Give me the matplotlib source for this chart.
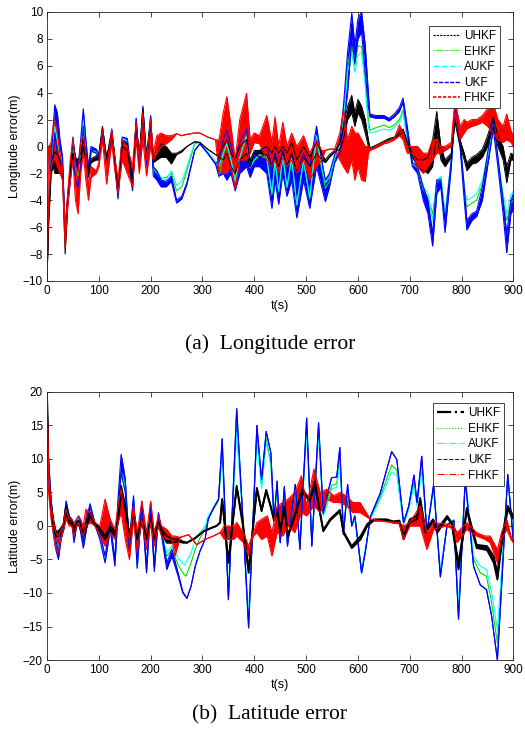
import numpy as np
import matplotlib.pyplot as plt
from matplotlib.lines import Line2D

plt.rcParams["font.family"] = ["Liberation Sans", "DejaVu Sans"]

# ---- (a) longitude error: (t, low, high) for oscillating series, (t, value) for smooth ones
lon_uhkf = [(0, -10, -10), (3, -6, -6), (8, -2.0, -1.5), (12, -1.5, -0.8), (15, -2.0, -0.4), (20, -2.0, -0.6),
            (25, -2.0, -1.0), (30, -2.1, -1.5), (35, -8.0, -7.0), (40, -4.3, -3.8), (45, -2.0, -1.5), (50, -0.5, 0.3),
            (55, -1.2, -0.8), (60, -1.4, -1.0), (65, -1.0, -0.5), (70, 0.0, 0.5), (75, -1.0, -0.5), (80, -2.2, -1.8),
            (85, -1.2, -0.9), (95, -1.0, -0.7), (100, -1.0, -0.7), (107, 1.0, 1.4), (115, -1.2, -0.8), (125, 0.8, 1.1),
            (130, -0.8, -0.5), (137, -3.5, -3.2), (145, 0.0, 0.3), (155, -0.3, 0.2), (165, -2.8, -2.5), (172, 1.5, 1.8),
            (178, -1.0, -0.7), (185, 2.5, 2.8), (192, -1.0, -0.7), (200, 1.8, 2.0), (205, -1.2, -0.9), (212, -1.0, -0.5),
            (220, -0.8, 0.2), (230, -0.8, 0.0), (240, -1.3, -0.5), (250, -0.6, -0.5), (260, -0.4, -0.3), (270, 0.0, 0.0),
            (285, 0.35, 0.35), (295, 0.3, 0.3), (310, -0.2, -0.2), (325, -0.6, -0.6), (332, -0.8, -0.6), (340, -1.0, 0.0),
            (347, -0.5, 0.5), (355, -1.5, -0.5), (363, -2.0, -1.0), (372, -1.0, 0.0), (385, -0.5, 0.5), (392, -1.5, -1.0),
            (400, -0.5, -0.3), (410, -0.8, -0.3), (424, -0.6, 0.0), (434, -1.5, -0.5), (440, -0.8, 0.0), (447, -1.5, -0.5),
            (455, -0.5, 0.0), (463, -1.5, -0.5), (472, -0.5, 0.3), (482, -2.0, -1.0), (495, -0.8, 0.0), (507, -1.5, -0.8),
            (520, -0.5, 0.3), (530, -1.0, -0.5), (537, -1.2, -1.0), (545, -0.8, -0.6), (555, -0.4, -0.3), (565, -0.2, 0.2),
            (572, 0.5, 1.5), (580, 2.0, 3.0), (588, 2.5, 3.8), (594, 1.5, 2.5), (600, 2.5, 3.5), (607, 2.0, 3.0),
            (614, 1.0, 2.0), (620, 0.0, 0.5), (623, -0.2, -0.1), (635, 0.0, 0.1), (650, 0.3, 0.4), (660, 0.5, 0.6),
            (670, 0.6, 0.7), (680, 0.9, 1.1), (687, 1.0, 1.3), (695, 0.2, 0.4), (705, -0.8, -0.6), (715, -1.5, -1.0),
            (726, -1.8, -1.0), (735, -2.0, -0.8), (744, -1.5, 0.5), (752, 1.0, 2.6), (760, -1.0, 0.0), (768, -1.5, -1.0),
            (780, -0.8, -0.5), (787, 1.8, 2.2), (797, 0.0, 0.5), (805, -1.0, -0.5), (810, -1.8, -1.2), (820, -1.3, -0.8),
            (829, -1.2, -0.6), (840, -0.8, -0.2), (850, 0.0, 0.8), (861, 1.5, 2.2), (870, 0.0, 0.8), (880, -1.0, 0.0),
            (887, -2.7, -1.5), (895, -1.0, -0.5), (900, -1.0, -0.6)]

lon_ehkf = [(0, -10), (3, -4), (8, -1.2), (15, 1.3), (20, 0.4), (25, -0.6), (30, -1.3), (35, -6.2), (40, -3.9),
            (45, -2.1), (50, 0.3), (55, -1.6), (60, -2.2), (65, -0.6), (70, 2.0), (75, -0.4), (80, -1.9), (85, -0.4),
            (95, -0.5), (100, -0.8), (107, 1.3), (115, -1.3), (125, 1.1), (130, -0.8), (137, -3.7), (145, 0.6),
            (155, 0.4), (165, -3.1), (172, 2.0), (178, -1.2), (185, 2.9), (192, -1.1), (200, 2.2), (205, -1.7),
            (212, -2.0), (220, -2.4), (230, -2.3), (240, -2.0), (250, -3.3), (260, -3.0), (270, -1.8), (285, 0.2),
            (295, 0.3), (310, -0.5), (325, -1.2), (332, -2.3), (340, -0.6), (347, 0.2), (355, -1.0), (363, -2.6),
            (372, -0.9), (385, 0.8), (392, -1.6), (400, -1.0), (410, -0.7), (424, -0.9), (434, -3.6), (440, -1.0),
            (447, -3.4), (455, -0.7), (463, -3.1), (472, -0.9), (482, -4.4), (495, -1.0), (507, -3.9), (520, 0.7),
            (530, -1.7), (537, -3.1), (545, -2.6), (555, -0.9), (565, 0.0), (572, 2.0), (580, 6.0), (588, 7.6),
            (594, 6.0), (600, 7.5), (607, 7.4), (614, 5.0), (620, 2.0), (623, 1.2), (635, 1.4), (650, 1.6),
            (660, 1.4), (670, 1.6), (680, 2.0), (687, 2.7), (695, 0.6), (705, -1.3), (715, -1.6), (726, -3.2),
            (735, -3.8), (744, -5.0), (752, -2.7), (760, -2.3), (768, -5.2), (780, -1.0), (787, 2.5), (797, 0.1),
            (805, -3.5), (810, -4.5), (820, -4.2), (829, -4.0), (840, -2.8), (850, -0.9), (861, 1.6), (870, -1.1),
            (880, -4.0), (887, -5.5), (895, -4.2), (900, -4.0)]

lon_aukf = [(0, -10), (3, -4), (8, -1.0), (15, 1.5), (20, 0.5), (25, -0.5), (30, -1.2), (35, -6.0), (40, -3.8),
            (45, -2.0), (50, 0.3), (55, -1.5), (60, -2.0), (65, -0.5), (70, 2.0), (75, -0.3), (80, -1.8), (85, -0.3),
            (95, -0.4), (100, -0.8), (107, 1.3), (115, -1.2), (125, 1.1), (130, -0.8), (137, -3.7), (145, 0.6),
            (155, 0.4), (165, -3.1), (172, 2.1), (178, -1.2), (185, 2.9), (192, -1.1), (200, 2.2), (205, -1.6),
            (212, -1.8), (220, -2.3), (230, -2.5), (240, -1.8), (250, -2.9), (260, -2.6), (270, -1.5), (285, 0.3),
            (295, 0.3), (310, -0.4), (325, -1.1), (332, -1.5), (340, -0.5), (347, 0.2), (355, -1.0), (363, -2.5),
            (372, -0.8), (385, 0.8), (392, -1.5), (400, -1.0), (410, -0.6), (424, -0.8), (434, -3.5), (440, -1.0),
            (447, -3.3), (455, -0.7), (463, -3.0), (472, -0.9), (482, -4.3), (495, -1.0), (507, -3.8), (520, 0.8),
            (530, -1.5), (537, -2.7), (545, -2.3), (555, -0.8), (565, 0.0), (572, 2.0), (580, 5.5), (588, 7.0),
            (594, 5.5), (600, 6.8), (607, 7.0), (614, 4.5), (620, 1.5), (623, 1.0), (635, 1.1), (650, 1.3),
            (660, 1.2), (670, 1.4), (680, 1.8), (687, 2.5), (695, 0.5), (705, -1.3), (715, -1.5), (726, -3.0),
            (735, -3.5), (744, -5.5), (752, -2.5), (760, -2.2), (768, -5.0), (780, -1.0), (787, 2.5), (797, 0.2),
            (805, -3.0), (810, -4.0), (820, -3.8), (829, -3.5), (840, -2.5), (850, -0.8), (861, 1.6), (870, -1.0),
            (880, -3.5), (887, -5.0), (895, -3.6), (900, -3.3)]

lon_ukf = [(0, -10, -10), (3, -5, -5), (8, -1.5, -1.0), (12, -0.5, 1.5), (15, 1.0, 3.1), (20, -0.5, 2.5),
           (25, -1.2, 0.5), (30, -1.6, -0.8), (35, -7.0, -6.5), (40, -4.2, -3.6), (45, -2.5, -1.5), (50, -0.5, 0.7),
           (55, -2.5, -1.0), (60, -3.0, -1.5), (65, -1.5, 0.5), (70, 1.5, 2.8), (75, -1.0, 0.5), (80, -2.3, -1.5),
           (85, -0.3, 0.0), (95, -0.5, -0.2), (100, -1.0, -0.6), (107, 1.2, 1.5), (115, -1.5, -1.0), (125, 1.0, 1.3),
           (130, -1.0, -0.5), (137, -3.9, -3.5), (145, 0.4, 0.7), (155, 0.2, 0.6), (165, -3.3, -3.0), (172, 1.8, 2.1),
           (178, -1.5, -1.0), (185, 2.7, 3.0), (192, -1.3, -1.0), (200, 2.0, 2.3), (205, -2.2, -1.5), (212, -2.5, -1.8),
           (220, -3.0, -2.5), (230, -3.0, -2.6), (240, -2.6, -2.2), (250, -4.2, -4.0), (260, -3.9, -3.7),
           (270, -2.8, -2.7), (285, -0.3, -0.3), (295, 0.2, 0.2), (310, -0.5, -0.5), (325, -1.3, -1.3),
           (332, -2.2, -1.0), (340, -2.0, 0.5), (347, -2.5, 1.2), (355, -2.0, 0.0), (363, -3.3, -1.0),
           (372, -2.0, 0.3), (385, -1.5, 1.3), (392, -2.3, -1.5), (400, -1.5, -0.5), (410, -1.5, -0.3),
           (424, -2.0, 0.0), (434, -4.6, -1.5), (440, -2.5, -0.5), (447, -4.3, -1.5), (455, -2.0, -0.3),
           (463, -3.7, -1.5), (472, -2.5, -0.5), (482, -5.3, -2.0), (495, -2.5, -0.5), (507, -4.6, -1.5),
           (520, -1.5, 1.5), (530, -3.0, -1.0), (537, -4.1, -2.5), (545, -3.0, -2.0), (555, -1.2, -0.6),
           (565, -0.5, 0.3), (572, 1.5, 3.0), (580, 4.0, 7.0), (588, 8.0, 9.9), (594, 6.2, 7.5), (600, 8.0, 9.5),
           (607, 8.5, 10.0), (614, 5.5, 7.5), (620, 3.0, 4.0), (623, 2.2, 2.4), (635, 2.1, 2.3), (650, 2.1, 2.3),
           (660, 1.9, 2.1), (670, 2.2, 2.4), (680, 2.6, 2.9), (687, 3.3, 3.6), (695, 1.0, 1.5), (705, -1.5, -1.2),
           (715, -2.0, -1.5), (726, -4.0, -3.0), (735, -5.0, -4.0), (744, -7.4, -6.5), (752, -3.5, -2.5),
           (760, -3.0, -2.5), (768, -6.4, -5.5), (780, -1.5, -1.0), (787, 2.5, 2.8), (797, 0.0, 0.5),
           (805, -4.0, -3.0), (810, -6.2, -5.5), (820, -5.5, -5.0), (829, -5.2, -4.8), (840, -4.0, -3.0),
           (850, -1.5, -0.5), (861, 1.3, 2.0), (870, -1.5, -0.8), (880, -5.0, -4.0), (887, -7.9, -6.5),
           (895, -5.0, -4.0), (900, -4.7, -3.5)]

lon_fhkf = [(0, -10, -10), (3, -4, 0.0), (8, -1.5, 0.3), (12, -1.0, 1.5), (15, -1.0, 2.0), (20, -1.5, 1.0),
            (25, -2.0, -0.5), (30, -2.5, -1.5), (35, -7.5, -6.0), (40, -4.5, -3.5), (45, -2.5, -1.0), (50, -1.0, 0.5),
            (55, -4.0, -1.5), (60, -5.0, -2.0), (65, -2.0, 0.3), (70, -0.5, 0.8), (75, -2.5, -0.5), (80, -4.0, -3.0),
            (85, -2.3, -1.5), (95, -2.0, -1.8), (100, -1.5, -1.2), (107, 0.5, 1.3), (115, -2.8, -1.5), (125, 0.3, 1.2),
            (130, -1.5, -0.5), (137, -3.5, -2.5), (145, -1.0, 0.5), (155, -2.0, 0.0), (165, -3.0, -1.5),
            (172, 0.5, 1.8), (178, -2.0, -1.0), (185, 0.5, 2.5), (192, -2.2, -1.0), (200, 0.0, 2.0), (205, -1.0, -0.5),
            (212, -0.5, 0.8), (220, 0.0, 1.0), (230, 0.2, 0.8), (240, 0.5, 0.8), (250, 0.95, 0.95), (260, 0.8, 0.8),
            (270, 0.9, 0.9), (285, 1.0, 1.0), (295, 1.0, 1.0), (310, 0.7, 0.7), (325, 0.5, 0.5), (332, -2.0, 0.5),
            (340, -2.0, 2.5), (347, -2.0, 3.7), (355, -1.5, 1.5), (363, -3.2, -1.0), (372, -1.0, 2.0),
            (385, -1.0, 3.95), (392, -0.5, 0.5), (400, 0.3, 1.0), (410, 0.2, 0.8), (424, -1.0, 2.3), (434, -1.5, 0.3),
            (440, -1.0, 2.2), (447, -2.0, 0.0), (455, -0.8, 1.8), (463, -1.5, 0.0), (472, -1.0, 1.0),
            (482, -2.0, 0.0), (495, -1.0, 0.8), (507, -2.5, -0.5), (520, -1.5, 0.5), (530, -1.0, -0.3),
            (537, -0.3, -0.3), (545, -0.2, -0.2), (555, -0.2, -0.2), (565, -1.0, 1.0), (572, -1.5, 2.7),
            (580, -2.0, 0.5), (588, -1.0, 1.5), (594, -2.5, 1.0), (600, -1.5, 1.0), (607, -2.5, 0.5), (614, -2.6, 0.0),
            (620, -0.5, 0.0), (623, -0.3, -0.2), (635, -0.1, 0.0), (650, 0.2, 0.3), (660, 0.3, 0.4), (670, 0.5, 0.6),
            (680, 0.8, 1.6), (687, 0.5, 1.0), (695, -0.5, 0.0), (705, -0.5, 0.0), (715, -1.5, 0.0), (726, -2.0, -0.5),
            (735, -1.5, -0.5), (744, -1.0, 0.5), (752, -0.5, 0.5), (760, -0.5, 0.0), (768, -0.3, 0.0), (780, 0.0, 0.3),
            (787, 2.5, 3.5), (797, 0.5, 1.5), (805, 1.0, 2.0), (810, 1.3, 1.8), (820, 1.5, 2.0), (829, 1.6, 2.0),
            (840, 1.8, 2.3), (850, 1.5, 2.8), (861, 1.0, 3.2), (870, 0.5, 2.0), (880, 0.3, 1.5), (887, 0.5, 2.4),
            (895, 0.3, 1.2), (900, 0.0, 0.8)]

# ---- (b) latitude error
lat_uhkf = [(0, 20, 20), (3, 7.0, 7.0), (8, 2.0, 3.0), (12, 0.0, 1.0), (17, -1.5, -0.8), (22, -1.5, -0.8),
            (27, -1.0, -0.3), (32, -0.5, 0.3), (37, 2.0, 3.0), (43, 0.5, 1.0), (48, 0.3, 0.8), (52, -1.0, -0.5),
            (57, 0.0, 0.5), (61, 0.3, 0.8), (65, -0.5, 0.0), (70, -1.5, -1.0), (75, -0.5, 0.0), (83, 1.5, 2.0),
            (93, 0.0, 0.3), (102, -0.8, -0.3), (112, -2.0, -1.5), (122, -0.5, 0.0), (131, -1.5, -1.0), (137, 0.5, 1.0),
            (143, 5.0, 6.0), (147, 3.5, 4.5), (151, 2.0, 3.0), (155, 0.0, 1.0), (159, -2.0, -1.5), (167, 1.5, 2.0),
            (174, -2.0, -1.0), (183, 0.5, 1.0), (192, -2.0, -1.5), (200, 0.5, 1.0), (207, -2.0, -1.0), (215, 0.0, 0.5),
            (221, -1.0, -0.5), (231, -2.5, -1.5), (241, -2.5, -2.0), (253, -2.3, -2.0), (262, -2.5, -2.3),
            (270, -2.5, -2.5), (286, -1.8, -1.8), (302, -0.8, -0.8), (320, -0.2, -0.2), (327, 0.0, 0.0),
            (334, 0.5, 0.5), (338, 4.0, 4.0), (350, -5.5, -5.3), (366, 5.8, 6.0), (378, 0.0, 0.5), (389, -7.0, -6.5),
            (405, 5.5, 5.7), (414, 2.2, 2.4), (423, 5.2, 5.4), (432, 2.7, 2.9), (438, 0.8, 1.0), (444, 2.0, 2.5),
            (450, -0.8, -0.5), (458, 2.5, 2.9), (465, -1.6, -1.4), (481, 2.2, 2.4), (493, 5.0, 5.5), (507, 3.7, 3.9),
            (517, 6.0, 6.6), (527, 1.8, 2.0), (533, -0.8, -0.6), (546, 0.8, 1.0), (565, 2.2, 2.4), (572, -1.0, -0.8),
            (588, -3.3, -3.0), (605, -2.0, -1.5), (618, 0.0, 0.3), (630, 0.8, 1.0), (655, 0.8, 1.0), (668, 0.5, 0.7),
            (680, 0.5, 0.8), (688, -2.0, -1.5), (700, 0.5, 1.0), (714, 1.0, 1.5), (720, 3.8, 4.2), (730, -1.0, -0.5),
            (745, 0.5, 1.0), (753, -1.0, -0.5), (772, 1.2, 1.5), (781, 0.3, 0.5), (794, -6.5, -5.5), (810, 2.3, 2.7),
            (829, -3.3, -2.8), (849, -3.6, -3.0), (862, -5.5, -4.5), (869, -8.0, -7.0), (877, -3.0, -2.0),
            (889, 2.5, 3.0), (900, 1.0, 1.5)]

lat_ehkf = [(0, 20), (3, 8), (8, 3), (12, 0.3), (17, -2.2), (22, -3.8), (27, -1.2), (32, 0.4), (37, 3.6), (43, 1.0),
            (48, 0.9), (52, -1.9), (57, 0.7), (61, 1.2), (65, -0.2), (70, -2.7), (75, -0.2), (83, 3.1), (93, 0.1),
            (102, -1.6), (112, -5.0), (122, -0.2), (131, -5.6), (137, 2.8), (143, 8.0), (147, 7.5), (151, 5.8),
            (155, 1.0), (159, -2.8), (167, 3.9), (174, -6.0), (183, 3.4), (192, -6.4), (200, 2.9), (207, -6.2),
            (215, 1.7), (221, -1.1), (231, -4.5), (241, -3.5), (253, -5.8), (262, -7.0), (268, -7.5), (278, -5.5),
            (286, -3.5), (295, -1.8), (305, -0.5), (311, 1.0), (320, 2.3), (331, 3.8), (338, 11.0), (350, -10.3),
            (366, 15.0), (378, 1.0), (389, -14.0), (405, 14.0), (414, 6.0), (423, 13.0), (432, 9.5), (438, 0.6),
            (444, 6.2), (450, -2.2), (458, 5.3), (464, -2.7), (479, 5.8), (488, -3.2), (501, 15.0), (511, -2.7),
            (524, 14.5), (533, 1.7), (540, 3.5), (549, 6.0), (559, 6.3), (565, 10.5), (572, -1.1), (580, 5.5),
            (588, 0.0), (594, 1.2), (607, -6.5), (614, -3.7), (624, 1.2), (643, 4.3), (665, 9.1), (675, 8.3),
            (688, 0.3), (698, 2.7), (708, 6.5), (714, 3.2), (723, 9.2), (733, -0.9), (746, 5.8), (759, -7.0),
            (772, 0.1), (785, 0.9), (794, -13.0), (807, 7.0), (823, -5.0), (836, -7.0), (848, -7.5), (858, -11.5),
            (869, -17.5), (875, -10.5), (889, 7.2), (900, -2.0)]

lat_aukf = [(0, 20), (3, 8), (8, 3), (12, 0.5), (17, -2.0), (22, -3.5), (27, -1.0), (32, 0.5), (37, 3.8), (43, 1.0),
            (48, 1.0), (52, -1.8), (57, 0.8), (61, 1.2), (65, 0.0), (70, -2.5), (75, 0.0), (83, 3.3), (93, 0.2),
            (102, -1.5), (112, -4.8), (122, 0.0), (131, -5.5), (137, 3.0), (143, 7.5), (147, 7.0), (151, 5.5),
            (155, 1.0), (159, -2.5), (167, 4.0), (174, -6.3), (183, 3.5), (192, -6.2), (200, 3.0), (207, -6.0),
            (215, 1.8), (221, -1.0), (231, -4.0), (241, -3.0), (253, -4.8), (262, -5.6), (266, -5.8), (278, -4.0),
            (286, -2.0), (295, -1.0), (305, 0.0), (311, 1.5), (320, 2.5), (331, 4.0), (338, 11.0), (350, -10.0),
            (366, 14.0), (378, 1.0), (389, -13.5), (405, 13.0), (414, 5.5), (423, 12.5), (432, 9.0), (438, 0.5),
            (444, 6.0), (450, -2.0), (458, 5.0), (464, -2.5), (479, 5.5), (488, -3.0), (501, 14.0), (511, -2.5),
            (524, 13.5), (533, 1.5), (540, 3.0), (549, 5.5), (559, 5.8), (565, 9.5), (572, -1.0), (580, 5.0),
            (588, 0.0), (594, 1.0), (607, -7.0), (614, -3.5), (624, 1.0), (643, 4.0), (665, 8.1), (675, 7.5),
            (688, 0.2), (698, 2.5), (708, 6.0), (714, 3.0), (723, 8.5), (733, -0.8), (746, 5.5), (759, -6.5),
            (772, 0.0), (785, 1.0), (794, -12.0), (807, 7.5), (823, -4.5), (836, -6.0), (848, -6.5), (858, -10.0),
            (869, -15.5), (875, -9.0), (889, 7.5), (900, -1.5)]

lat_ukf = [(0, 20, 20), (3, 8, 10), (8, 2, 4), (12, -1, 1), (17, -3.5, -2.0), (22, -5.0, -4.0), (27, -2.0, -1.0),
           (32, -0.5, 0.5), (37, 3.0, 3.7), (43, 0.5, 1.5), (48, 0.5, 1.0), (52, -2.5, -1.5), (57, 0.0, 1.0),
           (61, 0.5, 1.5), (65, -1.0, 0.5), (70, -3.3, -2.5), (75, -1.0, 0.5), (83, 2.8, 3.3), (93, 0.0, 0.3),
           (102, -2.0, -1.0), (112, -5.5, -4.5), (122, -0.5, 0.5), (131, -6.0, -5.0), (137, 2.0, 4.0),
           (143, 8.0, 10.7), (147, 6.5, 9.0), (151, 5.0, 7.0), (155, 0.0, 2.0), (159, -3.5, -2.0), (167, 3.5, 4.5),
           (174, -6.3, -5.0), (183, 3.0, 3.7), (192, -7.0, -6.0), (200, 2.5, 3.5), (207, -6.8, -6.0), (215, 1.5, 2.0),
           (221, -1.5, -0.5), (231, -6.5, -5.5), (241, -4.5, -3.5), (253, -7.5, -7.0), (262, -10.0, -9.8),
           (270, -10.8, -10.8), (278, -9.0, -9.0), (286, -6.0, -6.0), (295, -3.8, -3.8), (305, -2.0, -2.0),
           (311, 1.0, 1.0), (320, 2.5, 2.5), (331, 4.0, 4.0), (338, 13.0, 13.0), (350, -11.0, -11.0),
           (366, 17.5, 17.5), (378, 1.0, 1.0), (389, -15.2, -15.2), (405, 15.0, 15.0), (414, 6.9, 6.9),
           (423, 14.1, 14.1), (432, 10.9, 10.9), (438, 0.9, 0.9), (444, 6.7, 6.7), (450, -2.5, -2.5),
           (458, 5.9, 5.9), (464, -3.0, -3.0), (479, 6.2, 6.2), (488, -3.5, -3.5), (501, 16.1, 16.1),
           (511, -3.0, -3.0), (524, 15.4, 15.4), (533, 1.9, 1.9), (540, 4.4, 4.4), (549, 7.2, 7.2), (559, 7.3, 7.3),
           (565, 11.7, 11.7), (572, -1.3, -1.3), (580, 6.2, 6.2), (588, 0.0, 0.0), (594, 1.5, 1.5),
           (607, -7.0, -7.0), (614, -4.0, -4.0), (624, 1.4, 1.4), (643, 4.9, 4.9), (665, 11.1, 11.1),
           (675, 9.9, 9.9), (688, 0.5, 0.5), (698, 3.0, 3.0), (708, 7.6, 7.6), (714, 3.5, 3.5), (723, 10.4, 10.4),
           (733, -1.0, -1.0), (746, 6.2, 6.2), (759, -7.6, -7.6), (772, 0.2, 0.2), (785, 0.8, 0.8),
           (794, -13.9, -13.9), (807, 6.9, 6.9), (823, -6.0, -6.0), (836, -8.8, -8.8), (848, -9.5, -9.5),
           (858, -13.5, -13.5), (869, -20.0, -20.0), (875, -12.0, -12.0), (889, 7.7, 7.7), (900, -2.5, -2.5)]

lat_fhkf = [(0, 20, 20), (3, 5, 8), (8, 1, 3), (12, -1, 1), (17, -3.5, -1.0), (22, -4.0, -1.5), (27, -2.0, -0.5),
            (32, -0.5, 0.5), (37, 1.0, 2.5), (43, 0.0, 1.0), (48, 0.0, 1.0), (52, -1.5, 0.5), (57, 0.0, 1.0),
            (61, 0.5, 1.5), (65, -0.5, 1.0), (70, -1.5, 0.0), (75, 0.0, 2.5), (83, 0.5, 2.0), (93, 0.0, 0.5),
            (102, -1.5, 0.0), (112, -3.0, 4.0), (122, -1.0, 1.0), (131, -2.0, -0.5), (137, 0.5, 3.0),
            (143, 2.0, 5.5), (147, 0.0, 3.0), (151, -2.0, 1.0), (155, -3.5, -0.5), (159, -5.0, -2.0), (167, 1.0, 3.0),
            (174, -4.0, -1.0), (183, 1.0, 3.7), (192, -3.5, -1.0), (200, 0.5, 3.7), (207, -3.0, -1.0), (215, 0.0, 1.5),
            (221, -1.5, 0.0), (231, -2.0, -0.5), (241, -2.0, -1.5), (247, -4.5, -1.5), (257, -1.7, -1.7),
            (273, -1.3, -1.3), (289, -2.8, -2.8), (305, -2.0, -2.0), (321, -1.5, -1.5), (334, -1.0, -1.0),
            (342, -2.0, 0.0), (350, -2.0, 0.0), (360, -2.0, 0.0), (366, -1.5, 0.5), (379, -2.5, -1.0),
            (389, -4.5, -3.0), (398, -1.5, -1.0), (405, -1.0, 0.5), (414, -2.0, 1.0), (425, -1.5, 1.5),
            (434, -4.5, -1.0), (444, -1.0, 3.0), (455, -1.5, 3.5), (465, 0.0, 4.0), (478, -1.0, 5.0), (491, 2.0, 7.5),
            (501, 1.5, 3.0), (515, 3.0, 8.5), (527, 2.0, 5.0), (540, 4.0, 5.5), (553, 3.5, 4.5), (565, 3.5, 5.0),
            (578, 3.0, 4.5), (590, 2.0, 3.5), (604, 2.0, 3.5), (624, 1.0, 1.0), (650, 0.7, 0.7), (680, 0.3, 0.5),
            (688, -2.0, 0.0), (700, 0.0, 0.5), (720, 0.0, 3.0), (733, -3.5, -1.0), (746, -0.5, 0.5), (770, 0.0, 0.3),
            (785, -0.5, 0.0), (791, -2.5, -1.0), (810, -0.5, 0.5), (829, -1.5, -1.0), (845, -2.0, -1.5),
            (855, -2.5, -1.5), (869, -5.5, -3.5), (877, -2.0, -1.0), (887, -0.5, 1.0), (895, -2.0, -1.5),
            (900, -2.5, -2.0)]

names = ["UHKF", "EHKF", "AUKF", "UKF", "FHKF"]
colors = {"UHKF": "black", "EHKF": "#00e000", "AUKF": "cyan", "UKF": "blue", "FHKF": "red"}


def draw_band(ax, data, color, lw=0.8):
    arr = np.array(data, dtype=float)
    ax.fill_between(arr[:, 0], arr[:, 1], arr[:, 2], color=color, lw=0)
    ax.plot(arr[:, 0], arr[:, 1], color=color, lw=lw)
    ax.plot(arr[:, 0], arr[:, 2], color=color, lw=lw)


def draw_line(ax, data, color, lw=0.8):
    arr = np.array(data, dtype=float)
    ax.plot(arr[:, 0], arr[:, 1], color=color, lw=lw)


def style_axes(ax, ylim, ystep, ylabel):
    ax.set_xlim(0, 900)
    ax.set_ylim(*ylim)
    ax.set_xticks(np.arange(0, 901, 100))
    ax.set_yticks(np.arange(ylim[0], ylim[1] + 0.1, ystep))
    ax.tick_params(direction="in", top=True, right=True, labelsize=8.5, length=3.5,
                   color="#262626", width=0.6, pad=3)
    for s in ax.spines.values():
        s.set_color("#262626")
        s.set_linewidth(0.6)
    ax.set_xlabel("t(s)", fontsize=9, labelpad=2)
    ax.set_ylabel(ylabel, fontsize=9, labelpad=1)


fig = plt.figure(figsize=(5.25, 7.34), dpi=100)
ax1 = fig.add_axes([0.0895, 0.6172, 0.8885, 0.3665])
ax2 = fig.add_axes([0.0895, 0.1008, 0.8885, 0.3652])

# longitude panel
draw_line(ax1, lon_ehkf, colors["EHKF"])
draw_line(ax1, lon_aukf, colors["AUKF"])
draw_band(ax1, lon_ukf, colors["UKF"])
draw_band(ax1, lon_uhkf, colors["UHKF"], lw=0.7)
draw_band(ax1, lon_fhkf, colors["FHKF"])
style_axes(ax1, (-10, 10), 2, "Longitude error(m)")

# latitude panel
draw_line(ax2, lat_ehkf, colors["EHKF"])
draw_line(ax2, lat_aukf, colors["AUKF"])
draw_band(ax2, lat_ukf, colors["UKF"])
draw_band(ax2, lat_uhkf, colors["UHKF"], lw=1.3)
draw_band(ax2, lat_fhkf, colors["FHKF"])
style_axes(ax2, (-20, 20), 5, "Latitude error(m)")

# legends (line styles as in the original figure)
leg_kw = dict(loc="upper right", fontsize=8.5, handlelength=2.3, handletextpad=0.3, borderpad=0.35,
              labelspacing=0.3, borderaxespad=0, fancybox=False, edgecolor="#262626", framealpha=1)

top_styles = [(0, (2, 1)), (0, (1, 1)), (0, (4, 2)), (0, (3, 1)), (0, (2, 1))]
top_widths = [0.8, 0.8, 1.0, 1.0, 1.2]
h1 = [Line2D([], [], color=colors[n], ls=s, lw=w) for n, s, w in zip(names, top_styles, top_widths)]
ax1.legend(h1, names, bbox_to_anchor=(0.971, 0.948), **leg_kw).get_frame().set_linewidth(0.6)

bot_styles = ["-.", ":", "-.", "--", "-."]
bot_widths = [1.6, 0.8, 0.8, 0.8, 0.8]
h2 = [Line2D([], [], color=colors[n], ls=s, lw=w) for n, s, w in zip(names, bot_styles, bot_widths)]
ax2.legend(h2, names, bbox_to_anchor=(0.98, 0.958), **leg_kw).get_frame().set_linewidth(0.6)

fig.text(0.514, 1 - 344 / 734, "(a)  Longitude error", ha="center", va="center",
         fontsize=15.5, family="Liberation Serif")
fig.text(0.514, 1 - 715 / 734, "(b)  Latitude error", ha="center", va="center",
         fontsize=15.5, family="Liberation Serif")

fig.savefig("out.png", dpi=100)
